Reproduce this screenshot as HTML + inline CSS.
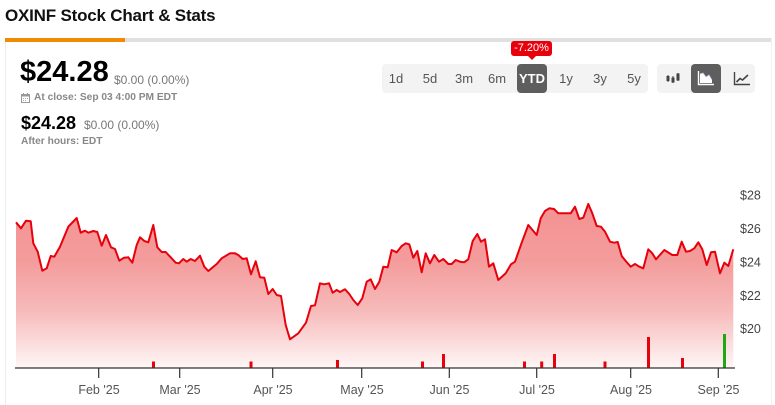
<!DOCTYPE html>
<html><head><meta charset="utf-8">
<style>
html,body{margin:0;padding:0;background:#fff;}
body{width:775px;height:405px;overflow:hidden;position:relative;font-family:"Liberation Sans",Arial,sans-serif;}
.abs{position:absolute;white-space:nowrap;}
</style></head><body>
<div class="abs" style="left:5px;top:6px;font-size:17px;font-weight:bold;color:#111;letter-spacing:-0.2px;">OXINF Stock Chart &amp; Stats</div>

<!-- card -->
<div class="abs" style="left:5px;top:38px;width:766px;height:4px;background:#e0e0e0;"></div>
<div class="abs" style="left:5px;top:38px;width:120px;height:4px;background:#f08a00;"></div>
<div class="abs" style="left:5px;top:42px;width:1px;height:363px;background:#ececec;"></div>
<div class="abs" style="left:771px;top:38px;width:1px;height:367px;background:#f0f0f0;"></div>

<div class="abs" style="left:20px;top:56px;font-size:29px;font-weight:bold;color:#000;">$24.28</div>
<div class="abs" style="left:114px;top:73px;font-size:12px;color:#777;">$0.00 (0.00%)</div>
<svg class="abs" style="left:21px;top:93px" width="9" height="10" viewBox="0 0 9 10"><rect x="0.5" y="1.5" width="8" height="8" fill="none" stroke="#999" stroke-width="1"/><rect x="0.5" y="1.5" width="8" height="2" fill="#999"/><line x1="2.5" y1="0" x2="2.5" y2="2" stroke="#999"/><line x1="6.5" y1="0" x2="6.5" y2="2" stroke="#999"/><g fill="#aaa"><rect x="2" y="5" width="1" height="1"/><rect x="4" y="5" width="1" height="1"/><rect x="6" y="5" width="1" height="1"/><rect x="2" y="7" width="1" height="1"/><rect x="4" y="7" width="1" height="1"/></g></svg>
<div class="abs" style="left:34px;top:92px;font-size:10.2px;font-weight:bold;color:#888;">At close: Sep 03 4:00 PM EDT</div>

<div class="abs" style="left:21px;top:113px;font-size:18px;font-weight:bold;color:#000;">$24.28</div>
<div class="abs" style="left:84px;top:118px;font-size:12px;color:#777;">$0.00 (0.00%)</div>
<div class="abs" style="left:21px;top:136px;font-size:10.2px;font-weight:bold;color:#888;">After hours: EDT</div>

<!-- range buttons -->
<div class="abs" style="left:382px;top:64px;width:266px;height:29px;background:#f3f3f3;border-radius:4px;"></div>
<div class="abs" style="left:517px;top:64px;width:30px;height:29px;background:#5e5e5e;border-radius:4px;"></div>
<div class="abs" style="left:0;top:71px;font-size:13px;color:#555;width:775px;height:16px;">
<span class="abs" style="left:387px;width:18px;text-align:center">1d</span>
<span class="abs" style="left:421px;width:18px;text-align:center">5d</span>
<span class="abs" style="left:453px;width:22px;text-align:center">3m</span>
<span class="abs" style="left:486px;width:22px;text-align:center">6m</span>
<span class="abs" style="left:517px;width:30px;text-align:center;color:#fff;font-weight:bold">YTD</span>
<span class="abs" style="left:557px;width:18px;text-align:center">1y</span>
<span class="abs" style="left:591px;width:18px;text-align:center">3y</span>
<span class="abs" style="left:625px;width:18px;text-align:center">5y</span>
</div>
<!-- tooltip -->
<svg class="abs" style="left:511px;top:41px" width="42" height="20"><rect x="0" y="0" width="41" height="15" rx="3" fill="#e8000b"/><polygon points="16,14 26,14 21,19" fill="#e8000b"/></svg>
<div class="abs" style="left:511px;top:42px;width:41px;text-align:center;font-size:11px;color:#fff;">-7.20%</div>

<!-- type buttons -->
<div class="abs" style="left:657px;top:64px;width:98px;height:29px;background:#f3f3f3;border-radius:4px;"></div>
<div class="abs" style="left:691px;top:64px;width:30px;height:29px;background:#5e5e5e;border-radius:4px;"></div>
<svg class="abs" style="left:665px;top:70px" width="16" height="16"><g fill="#444" stroke="#444"><line x1="3" y1="5" x2="3" y2="12"/><rect x="2" y="6.5" width="2" height="4"/><line x1="8" y1="6" x2="8" y2="13"/><rect x="7" y="8" width="2" height="4" fill="none"/><line x1="13" y1="3" x2="13" y2="11"/><rect x="12" y="4" width="2" height="6"/></g></svg>
<svg class="abs" style="left:697px;top:70px" width="18" height="16"><polyline points="1.5,1 1.5,14.5 17,14.5" fill="none" stroke="#fff" stroke-width="1.4"/><polygon points="3,13 3,4 6,3 9,7 12,5 15,10 15,13" fill="#fff"/><polyline points="3,4 6,3 9,7 12,5 15,10" fill="none" stroke="#cce" stroke-width="0.7"/></svg>
<svg class="abs" style="left:733px;top:70px" width="18" height="16"><polyline points="1.5,2 1.5,14.5 17,14.5" fill="none" stroke="#444" stroke-width="1.4"/><polyline points="3.5,12 7,8.5 9.5,10 15,5" fill="none" stroke="#444" stroke-width="1.6"/></svg>

<!-- chart -->
<svg class="abs" style="left:0;top:0" width="775" height="405">
<defs>
<linearGradient id="g" gradientUnits="userSpaceOnUse" x1="0" y1="204" x2="0" y2="368">
<stop offset="0" stop-color="#f39292"/>
<stop offset="0.35" stop-color="#f49c9c"/>
<stop offset="0.65" stop-color="#f7baba"/>
<stop offset="1" stop-color="#fff6f6"/>
</linearGradient>
</defs>
<path fill="url(#g)" d="M16,222.3 L21,228.3 L26,220.7 L30.7,221.3 L33.3,243.3 L37.7,251.7 L42.3,270.7 L46.7,268.3 L50.7,256 L54.3,256.7 L60,246.7 L68.3,226.7 L76.7,218 L80.7,232.7 L85,230.7 L88.3,232.7 L93.3,231 L97.3,232 L101.7,245.7 L106,235 L111,247.3 L115,249 L119.3,260.7 L124,257.7 L128.3,257.3 L132.3,262.7 L136.7,245 L140,237.3 L144.3,241 L148.3,242.3 L153.3,225 L157.3,247.3 L161.7,252 L165.7,252 L175.7,262.7 L179,263.3 L183.3,259 L186.7,261.7 L190.7,259 L195,261 L200,255.7 L204.3,266.7 L208.3,271 L216.7,264 L221.7,258.3 L230,253.3 L235,253.3 L238.3,255 L242.7,259 L246.7,258.3 L251,274.3 L255.7,261.3 L260,277.3 L264.3,277.7 L268.3,294 L272.7,289 L276.7,295 L281,296 L285.7,325 L290,339.3 L298.3,333.3 L306,322.7 L311,306 L315,305.3 L320,283.3 L324,284.3 L329,283.3 L332.7,292.7 L336.7,290 L340,292 L345,289.3 L349.3,294 L353.3,300 L357.7,305 L362.3,298.3 L366.7,281.7 L370.7,279.3 L375,289 L379.3,281.7 L383.3,266.7 L387.7,267.3 L391.7,250 L396.7,252.3 L401.7,246 L405.7,243.3 L409.3,244.3 L413.3,257.7 L417.3,251 L421.7,272.3 L425.7,253.3 L430,263.3 L434.3,255 L439,261.7 L443.3,259 L448.3,264 L451.7,264 L455.7,260 L460,261.7 L464,262.3 L468.3,259.3 L472.7,241 L477.3,234 L481,241.7 L485,239.3 L489,266.7 L493.3,263.3 L498.3,280 L505.7,273.3 L511,264.3 L515,261.7 L521.7,242.7 L528.3,225 L536.7,235 L540.7,218.3 L545,211 L549.3,208.3 L554,209 L558.3,213.3 L570.7,213.3 L575,206.7 L579.3,219 L583.3,217.7 L588.3,204 L592.3,213.3 L596.7,226 L601,226.7 L605,231.7 L610,241.7 L614.3,242.7 L617.7,242 L621.7,256 L625.7,261 L630.7,266.7 L635,264 L639.3,266.7 L643.3,268.3 L648.3,249.3 L652.3,253.3 L656,259.3 L664.3,250 L672.3,255 L677.3,255 L681.7,241.7 L686,251.7 L690,251 L694.3,248.3 L698.3,242.3 L702.3,249.3 L706.7,265 L711,252.3 L715,251.7 L720,273.3 L724.3,262.7 L728.3,266 L733.3,249.3 L733.3,368 L16,368 Z"/>
<polyline fill="none" stroke="#e8000b" stroke-width="2" stroke-linejoin="round" points="16,222.3 21,228.3 26,220.7 30.7,221.3 33.3,243.3 37.7,251.7 42.3,270.7 46.7,268.3 50.7,256 54.3,256.7 60,246.7 68.3,226.7 76.7,218 80.7,232.7 85,230.7 88.3,232.7 93.3,231 97.3,232 101.7,245.7 106,235 111,247.3 115,249 119.3,260.7 124,257.7 128.3,257.3 132.3,262.7 136.7,245 140,237.3 144.3,241 148.3,242.3 153.3,225 157.3,247.3 161.7,252 165.7,252 175.7,262.7 179,263.3 183.3,259 186.7,261.7 190.7,259 195,261 200,255.7 204.3,266.7 208.3,271 216.7,264 221.7,258.3 230,253.3 235,253.3 238.3,255 242.7,259 246.7,258.3 251,274.3 255.7,261.3 260,277.3 264.3,277.7 268.3,294 272.7,289 276.7,295 281,296 285.7,325 290,339.3 298.3,333.3 306,322.7 311,306 315,305.3 320,283.3 324,284.3 329,283.3 332.7,292.7 336.7,290 340,292 345,289.3 349.3,294 353.3,300 357.7,305 362.3,298.3 366.7,281.7 370.7,279.3 375,289 379.3,281.7 383.3,266.7 387.7,267.3 391.7,250 396.7,252.3 401.7,246 405.7,243.3 409.3,244.3 413.3,257.7 417.3,251 421.7,272.3 425.7,253.3 430,263.3 434.3,255 439,261.7 443.3,259 448.3,264 451.7,264 455.7,260 460,261.7 464,262.3 468.3,259.3 472.7,241 477.3,234 481,241.7 485,239.3 489,266.7 493.3,263.3 498.3,280 505.7,273.3 511,264.3 515,261.7 521.7,242.7 528.3,225 536.7,235 540.7,218.3 545,211 549.3,208.3 554,209 558.3,213.3 570.7,213.3 575,206.7 579.3,219 583.3,217.7 588.3,204 592.3,213.3 596.7,226 601,226.7 605,231.7 610,241.7 614.3,242.7 617.7,242 621.7,256 625.7,261 630.7,266.7 635,264 639.3,266.7 643.3,268.3 648.3,249.3 652.3,253.3 656,259.3 664.3,250 672.3,255 677.3,255 681.7,241.7 686,251.7 690,251 694.3,248.3 698.3,242.3 702.3,249.3 706.7,265 711,252.3 715,251.7 720,273.3 724.3,262.7 728.3,266 733.3,249.3"/>
<!-- volume -->
<g fill="#e8000b">
<rect x="152" y="361.5" width="3" height="6.5"/>
<rect x="249.5" y="361.5" width="3" height="6.5"/>
<rect x="336" y="360" width="3" height="8"/>
<rect x="421" y="361.5" width="3" height="6.5"/>
<rect x="442" y="354" width="3" height="14"/>
<rect x="523" y="361.5" width="3" height="6.5"/>
<rect x="540.2" y="361.5" width="3" height="6.5"/>
<rect x="553" y="354" width="3" height="14"/>
<rect x="603.5" y="361.5" width="3" height="6.5"/>
<rect x="647" y="337" width="3" height="31"/>
<rect x="681" y="358" width="3" height="10"/>
</g>
<rect x="723" y="334" width="3" height="34" fill="#1fa812"/>
<!-- axis -->
<line x1="15" y1="368" x2="735" y2="368" stroke="#333" stroke-width="1.3"/>
<g stroke="#333" stroke-width="1.2">
<line x1="98.7" y1="368" x2="98.7" y2="378"/>
<line x1="179.7" y1="368" x2="179.7" y2="378"/>
<line x1="272.7" y1="368" x2="272.7" y2="378"/>
<line x1="361.7" y1="368" x2="361.7" y2="378"/>
<line x1="449.3" y1="368" x2="449.3" y2="378"/>
<line x1="536.7" y1="368" x2="536.7" y2="378"/>
<line x1="630.7" y1="368" x2="630.7" y2="378"/>
<line x1="718.3" y1="368" x2="718.3" y2="378"/>
</g>
<g font-family="Liberation Sans, Arial, sans-serif" font-size="12.5" fill="#555" text-anchor="middle">
<text x="99" y="394">Feb '25</text>
<text x="180" y="394">Mar '25</text>
<text x="273" y="394">Apr '25</text>
<text x="362" y="394">May '25</text>
<text x="449.5" y="394">Jun '25</text>
<text x="537" y="394">Jul '25</text>
<text x="631" y="394">Aug '25</text>
<text x="718.5" y="394">Sep '25</text>
</g>
<g font-family="Liberation Sans, Arial, sans-serif" font-size="12.5" fill="#444">
<text x="740" y="199.5">$28</text>
<text x="740" y="233">$26</text>
<text x="740" y="266.5">$24</text>
<text x="740" y="300">$22</text>
<text x="740" y="333">$20</text>
</g>
</svg>
</body></html>
